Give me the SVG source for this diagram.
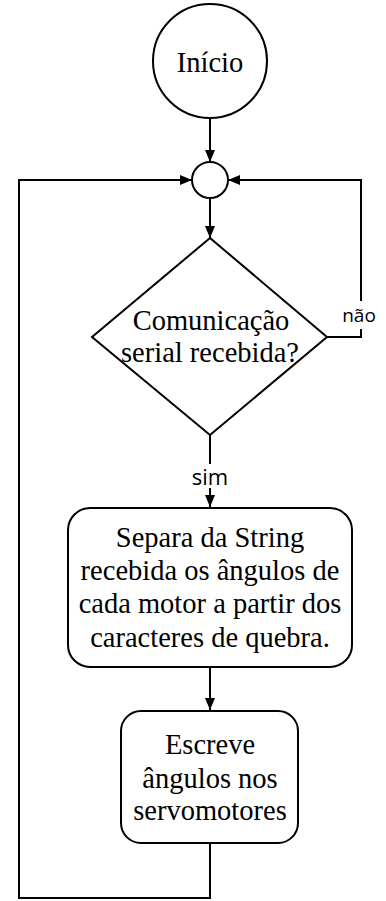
<svg xmlns="http://www.w3.org/2000/svg" width="386" height="901" viewBox="0 0 386 901">
<style>
.shape{fill:#fff;stroke:#000;stroke-width:2}
.line{fill:none;stroke:#000;stroke-width:2}
.t{font-family:"Liberation Serif","Times New Roman",serif;font-size:28.5px;fill:#000;text-anchor:middle}
.lbl{font-family:"Open Sans","Liberation Sans",sans-serif;fill:#000;text-anchor:middle}
</style>
<defs>
<marker id="arr" viewBox="0 0 12 10" refX="12" refY="5" markerWidth="12" markerHeight="10" markerUnits="userSpaceOnUse" orient="auto">
<path d="M0,0 L12,5 L0,10 Z" fill="#000"/>
</marker>
</defs>
<g id="connectors">
<path class="line" d="M210,118 V162" marker-end="url(#arr)"/>
<path class="line" d="M210,198 V238" marker-end="url(#arr)"/>
<path class="line" d="M327,337 H361 V180 H228" marker-end="url(#arr)"/>
<path class="line" d="M210,435 V507" marker-end="url(#arr)"/>
<path class="line" d="M210,667 V710" marker-end="url(#arr)"/>
<path class="line" d="M210,843 V898 H19 V180 H192" marker-end="url(#arr)"/>
<rect x="340" y="301" width="42" height="28" fill="#fff"/>
<text class="lbl" x="359" y="322" font-size="19">não</text>
<rect x="188" y="464" width="44" height="24" fill="#fff"/>
<text class="lbl" x="210" y="485" font-size="22">sim</text>
</g>
<g id="inicio">
<circle class="shape" cx="210" cy="61" r="57"/>
<text class="t" x="210" y="72" font-size="31">Início</text>
</g>
<g id="juncao">
<circle class="shape" cx="210" cy="180" r="18"/>
</g>
<g id="decisao">
<path class="shape" d="M210,238 L327,337 L210,435 L92,337 Z"/>
<text class="t" x="211" y="330">Comunicação</text>
<text class="t" x="210" y="362">serial recebida?</text>
</g>
<g id="separa">
<rect class="shape" x="68" y="508" width="284" height="159" rx="22" ry="22"/>
<text class="t" x="210" y="547">Separa da String</text>
<text class="t" x="210" y="580">recebida os ângulos de</text>
<text class="t" x="210" y="613">cada motor a partir dos</text>
<text class="t" x="210" y="647">caracteres de quebra.</text>
</g>
<g id="escreve">
<rect class="shape" x="121" y="711" width="177" height="132" rx="20" ry="20"/>
<text class="t" x="210" y="754">Escreve</text>
<text class="t" x="210" y="788">ângulos nos</text>
<text class="t" x="210" y="820">servomotores</text>
</g>
</svg>
